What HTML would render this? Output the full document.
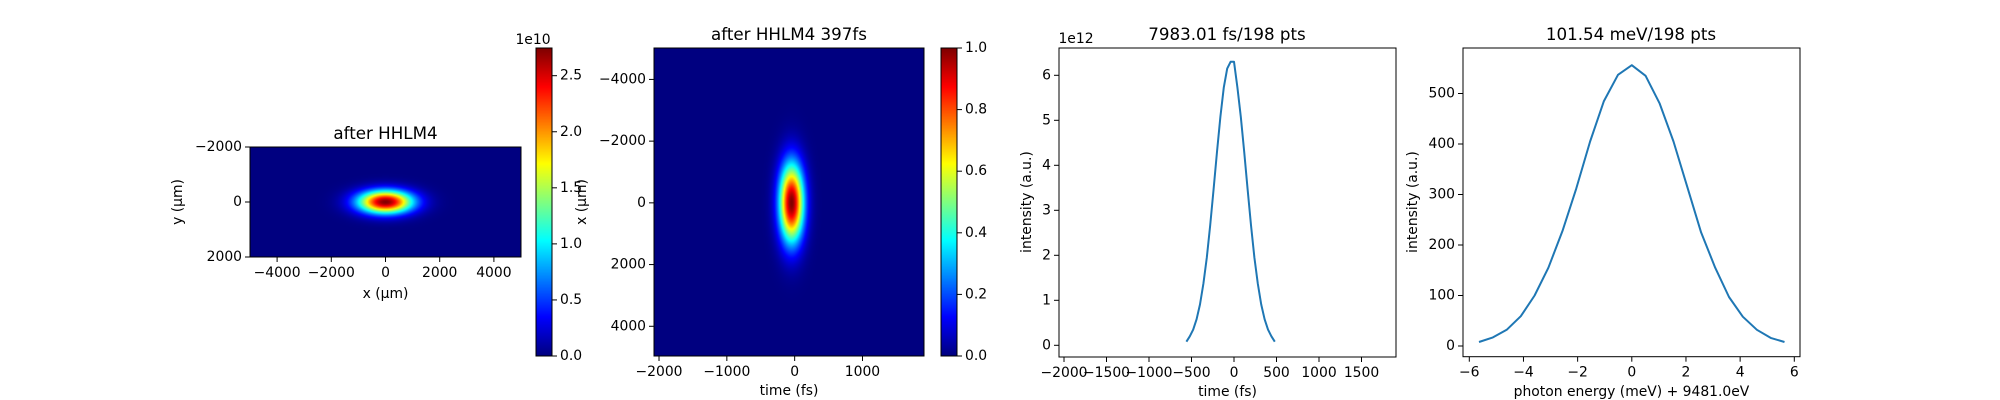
<!DOCTYPE html>
<html><head><meta charset="utf-8">
<style>
html,body{margin:0;padding:0;background:#fff;}
#wrap{position:relative;width:2000px;height:400px;overflow:hidden;font-family:"DejaVu Sans","Liberation Sans",sans-serif;}
canvas{position:absolute;}
svg{position:absolute;left:0;top:0;}
text{font-family:"DejaVu Sans","Liberation Sans",sans-serif;fill:#000;}
</style></head>
<body>
<div id="wrap">
<canvas id="hm1" style="left:250px;top:147px" width="271" height="110"></canvas>
<canvas id="cb1" style="left:536px;top:48px" width="16" height="308"></canvas>
<canvas id="hm2" style="left:654px;top:48px" width="270" height="308"></canvas>
<canvas id="cb2" style="left:941px;top:48px" width="16" height="308"></canvas>
<svg id="svg" width="2000" height="400" xmlns="http://www.w3.org/2000/svg"></svg>
</div>
<script>
// ---- data ----
const beam1Params = [0, 0, 700, 290, 2.74e10];
const beam1Range = [0, 2.747e10];
const beam2Params = [-45, 0, 125, 880, 1.0];
const beam2Range = [0, 1.0];
const timeVals = [-560,-520,-480,-440,-400,-360,-320,-280,-240,-200,-160,-120,-80,-40,0,40,80,120,160,200,240,280,320,360,400,440,480];
const timeIntensity = [0.08,0.20,0.35,0.58,0.91,1.37,1.95,2.67,3.47,4.30,5.08,5.73,6.15,6.30,6.30,5.73,5.08,4.30,3.47,2.67,1.95,1.37,0.91,0.58,0.35,0.20,0.08];
const energyVals = [-5.64,-5.13,-4.62,-4.10,-3.59,-3.08,-2.56,-2.05,-1.54,-1.03,-0.51,0,0.51,1.03,1.54,2.05,2.56,3.08,3.59,4.10,4.62,5.13,5.64];
const energyIntensity = [8,17,32,59,100,155,228,312,405,485,537,556,535,480,405,315,225,155,97,58,32,16,8];
const p1XTicks = [-4000,-2000,0,2000,4000];
const p1YTicks = [-2000,0,2000];
const cb1Ticks = [0,0.5,1.0,1.5,2.0,2.5];
const p2XTicks = [-2000,-1000,0,1000];
const p2YTicks = [-4000,-2000,0,2000,4000];
const cb2Ticks = [0,0.2,0.4,0.6,0.8,1.0];
const p3XTicks = [-2000,-1500,-1000,-500,0,500,1000,1500];
const p3YTicks = [0,1,2,3,4,5,6];
const p4XTicks = [-6,-4,-2,0,2,4,6];
const p4YTicks = [0,100,200,300,400,500];

const NS="http://www.w3.org/2000/svg";
const svg=document.getElementById('svg');
function el(tag,attrs,parent){const e=document.createElementNS(NS,tag);for(const k in attrs)e.setAttribute(k,attrs[k]);(parent||svg).appendChild(e);return e;}
function txt(s,x,y,anchor,size,name,rot){const t=el('text',{x:x,y:y,'text-anchor':anchor||'middle','font-size':size||13.9,'dominant-baseline':'central'});


if(rot)t.setAttribute('transform','rotate(-90 '+x+' '+y+')');t.textContent=s;return t;}
function fmt(v){return (v<0?'\u2212':'')+Math.abs(v);}
function lin(d0,d1,p0,p1){return v=>p0+(v-d0)/(d1-d0)*(p1-p0);}
function jet(v){v=Math.max(0,Math.min(1,v));const c=x=>Math.round(255*Math.max(0,Math.min(1,1.5-Math.abs(x))));return [c(4*v-3),c(4*v-2),c(4*v-1)];}

function frame(l,t,r,b,name){const f=el('rect',{x:l,y:t,width:r-l,height:b-t,fill:'none',stroke:'#000','stroke-width':1});

}
function xticks(ticks,sx,b,labelFn,name){ticks.forEach(v=>{const x=sx(v);el('line',{x1:x,x2:x,y1:b,y2:b+5,stroke:'#000','stroke-width':1});txt(labelFn(v),x,b+16,'middle',13.9,name);});}
function yticks(ticks,sy,l,labelFn,name){ticks.forEach(v=>{const y=sy(v);el('line',{x1:l-5,x2:l,y1:y,y2:y,stroke:'#000','stroke-width':1});txt(labelFn(v),l-8,y,'end',13.9,name);});}
function cbticks(ticks,sy,r,name){ticks.forEach(v=>{const y=sy(v);el('line',{x1:r,x2:r+5,y1:y,y2:y,stroke:'#000','stroke-width':1});txt(v.toFixed(1),r+8,y,'start',13.9,name);});}

function drawHeat(id,w,h,sx,sy,params,range){const cv=document.getElementById(id),ctx=cv.getContext('2d');const img=ctx.createImageData(w,h);
for(let j=0;j<h;j++)for(let i=0;i<w;i++){const a=sx(i+0.5),b=sy(j+0.5);const v=params[4]*Math.exp(-((a-params[0])**2)/(2*params[2]**2)-((b-params[1])**2)/(2*params[3]**2));
const c=jet((v-range[0])/(range[1]-range[0]));const k=(j*w+i)*4;img.data[k]=c[0];img.data[k+1]=c[1];img.data[k+2]=c[2];img.data[k+3]=255;}ctx.putImageData(img,0,0);}
function drawCb(id,h){const cv=document.getElementById(id),ctx=cv.getContext('2d');for(let j=0;j<h;j++){const c=jet(1-j/(h-1));ctx.fillStyle='rgb('+c+')';ctx.fillRect(0,j,16,1);}}

// ---- Panel 1 ----
{const l=250,r=521,t=147,b=257;const sx=lin(-5000,5000,l,r),sy=lin(-2000,2000,t,b);
drawHeat('hm1',271,110,lin(0,271,-5000,5000),lin(0,110,-2000,2000),beam1Params,beam1Range);
frame(l,t,r,b,'panel1-frame');xticks(p1XTicks,sx,b,fmt,'p1-x-tick');yticks(p1YTicks,sy,l,fmt,'p1-y-tick');
txt('after HHLM4',(l+r)/2,133,'middle',16.7,'p1-title');txt('x (\u03bcm)',(l+r)/2,294,'middle',13.9,'p1-x-axis-title');txt('y (\u03bcm)',178,202,'middle',13.9,'p1-y-axis-title',true);
const cl=536,cr=552,ct=48,cbm=356;frame(cl,ct,cr,cbm,'colorbar1-frame');const csy=lin(0,beam1Range[1]/1e10,cbm,ct);cbticks(cb1Ticks,csy,cr,'cb1-tick');txt('1e10',533,40,'middle',13.9,'cb1-exponent');}
// ---- Panel 2 ----
{const l=654,r=924,t=48,b=356;const sx=lin(-2074,1907,l,r),sy=lin(-5018,4963,t,b);
drawHeat('hm2',270,308,lin(0,270,-2074,1907),lin(0,308,-5018,4963),beam2Params,beam2Range);
frame(l,t,r,b,'panel2-frame');xticks(p2XTicks,sx,b,fmt,'p2-x-tick');yticks(p2YTicks,sy,l,fmt,'p2-y-tick');
txt('after HHLM4 397fs',(l+r)/2,34,'middle',16.7,'p2-title');txt('time (fs)',(l+r)/2,391,'middle',13.9,'p2-x-axis-title');txt('x (\u03bcm)',582,202,'middle',13.9,'p2-y-axis-title',true);
const cl=941,cr=957,ct=48,cbm=356;frame(cl,ct,cr,cbm,'colorbar2-frame');cbticks(cb2Ticks,lin(0,1,cbm,ct),cr,'cb2-tick');}
drawCb('cb1',308);drawCb('cb2',308);
// ---- Panel 3 ----
{const l=1059,r=1396,t=48,b=357;const sx=lin(-2059,1906,l,r),sy=lin(0,1,345.3,300.3);
const d=timeVals.map((v,i)=>(i?'L':'M')+sx(v).toFixed(1)+','+sy(timeIntensity[i]).toFixed(1)).join('');
const p=el('path',{d:d,fill:'none',stroke:'#1f77b4','stroke-width':2,'stroke-linejoin':'round'});


frame(l,t,r,b,'panel3-frame');xticks(p3XTicks,sx,b,fmt,'p3-x-tick');yticks(p3YTicks,sy,l,v=>String(v),'p3-y-tick');
txt('7983.01 fs/198 pts',1227,34,'middle',16.7,'p3-title');txt('time (fs)',(l+r)/2,392,'middle',13.9,'p3-x-axis-title');txt('intensity (a.u.)',1027,202,'middle',13.9,'p3-y-axis-title',true);
txt('1e12',1076,39,'middle',13.9,'p3-exponent');}
// ---- Panel 4 ----
{const l=1463,r=1800,t=48,b=356.7;const sx=lin(-6,6,1469.3,1794.3),sy=lin(0,100,346,295.5);
const d=energyVals.map((v,i)=>(i?'L':'M')+sx(v).toFixed(1)+','+sy(energyIntensity[i]).toFixed(1)).join('');
const p=el('path',{d:d,fill:'none',stroke:'#1f77b4','stroke-width':2,'stroke-linejoin':'round'});


frame(l,t,r,b,'panel4-frame');xticks(p4XTicks,sx,b,fmt,'p4-x-tick');yticks(p4YTicks,sy,l,v=>String(v),'p4-y-tick');
txt('101.54 meV/198 pts',1631,34,'middle',16.7,'p4-title');txt('photon energy (meV) + 9481.0eV',(l+r)/2,392,'middle',13.9,'p4-x-axis-title');txt('intensity (a.u.)',1413,202,'middle',13.9,'p4-y-axis-title',true);}
</script>
</body></html>
